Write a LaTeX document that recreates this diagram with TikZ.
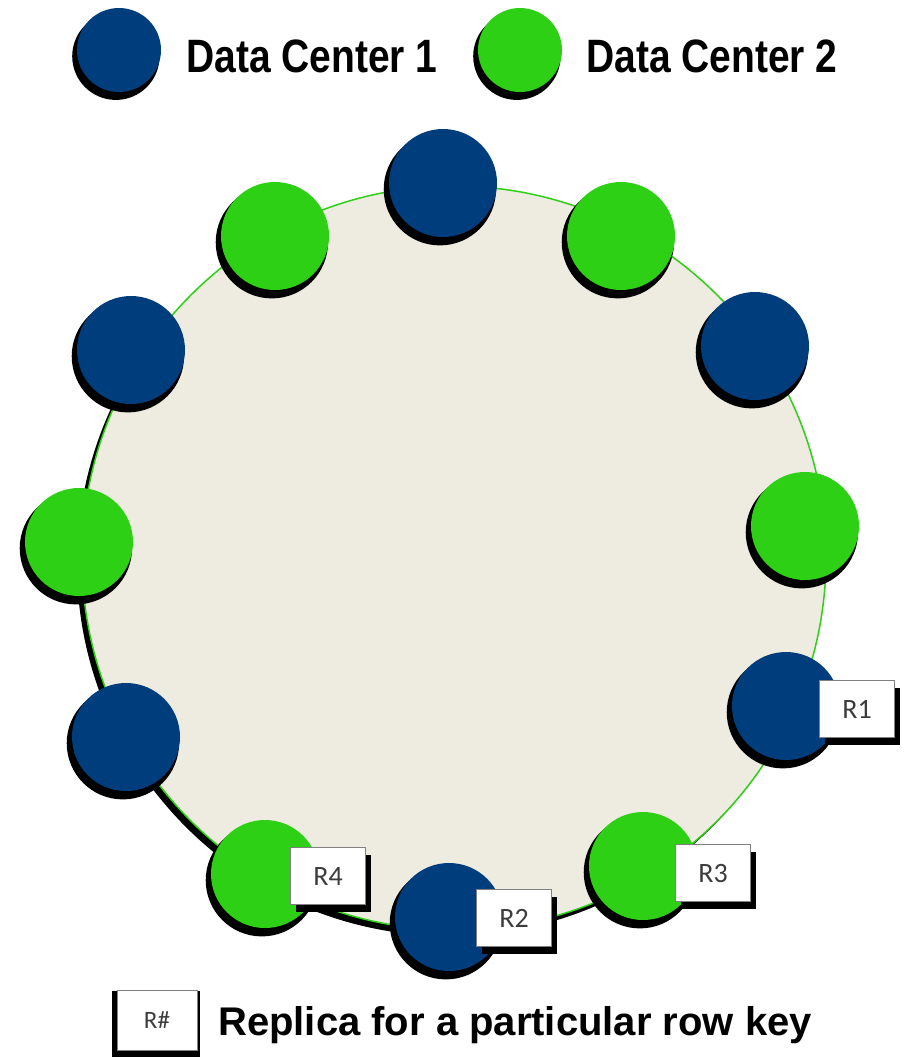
\documentclass[tikz,border=0pt]{standalone}
\usepackage{fontspec}
\setmainfont{Liberation Sans}
\newfontfamily\repfont{Carlito}
\usetikzlibrary{shadows}
\definecolor{dcblue}{RGB}{0,61,125}
\definecolor{dcgreen}{RGB}{46,208,22}
\definecolor{ringfill}{RGB}{238,235,224}
\definecolor{repgray}{RGB}{60,60,60}

\begin{document}
\begin{tikzpicture}[x=1pt,y=-1pt,
  ring/.style={circle,draw=dcgreen,line width=1.5pt,fill=ringfill,minimum size=744pt,inner sep=0pt,
    drop shadow={shadow xshift=-5pt,shadow yshift=-6pt,fill=black,opacity=1}},
  dc/.style={circle,minimum size=108pt,inner sep=0pt,
    drop shadow={shadow xshift=-3pt,shadow yshift=-6pt,shadow scale=1.04,fill=black,opacity=1}},
  dcone/.style={dc,fill=dcblue},
  dctwo/.style={dc,fill=dcgreen},
  repbox/.style={draw=gray,line width=1pt,fill=white,inner sep=0pt,text=repgray},
  replica/.style={repbox,minimum width=75pt,minimum height=57pt,font=\repfont\fontsize{28}{28}\selectfont,
    drop shadow={shadow xshift=5pt,shadow yshift=-7pt,fill=black,opacity=1}},
  repkey/.style={repbox,minimum width=80pt,minimum height=60pt,font=\repfont\fontsize{25}{25}\selectfont,
    drop shadow={shadow xshift=-1pt,shadow yshift=-4pt,shadow scale=1.1,fill=black,opacity=1}},
  legend/.style={font=\bfseries\fontsize{39}{39}\selectfont,anchor=base west,inner sep=0pt}]
\useasboundingbox (0,0) rectangle (906,1058);

% legend
\node[dcone,minimum size=84pt] (keyone) at (119,50) {};
\node[legend] (keyonetext) at (186,72) {\scalebox{1}[1.2]{Data Center 1}};
\node[dctwo,minimum size=84pt] (keytwo) at (520,50) {};
\node[legend] (keytwotext) at (586,72) {\scalebox{1}[1.2]{Data Center 2}};

% ring
\node[ring] (ring) at (454,558) {};

\node[dcone] (b1) at (443,183) {};
\node[dctwo] (g1) at (621,236) {};
\node[dcone] (b2) at (755,346) {};
\node[dctwo] (g2) at (805,526) {};
\node[dcone] (b3) at (786,706) {};
\node[dctwo] (g3) at (643,866) {};
\node[dcone] (b4) at (449,917) {};
\node[dctwo] (g4) at (265,874) {};
\node[dcone] (b5) at (126,737) {};
\node[dctwo] (g5) at (79,542) {};
\node[dcone] (b6) at (131,350) {};
\node[dctwo] (g6) at (275,236) {};

% replicas
\node[replica] (r1) at (857,709) {R1};
\node[replica] (r4) at (328,876) {R4};
\node[replica] (r2) at (514,918) {R2};
\node[replica] (r3) at (713,873) {R3};

\node[repkey] (repkey) at (157,1020) {R\#};
\node[legend,font=\bfseries\fontsize{40}{40}\selectfont] (repkeytext) at (218,1035) {Replica for a particular row key};
\end{tikzpicture}
\end{document}
